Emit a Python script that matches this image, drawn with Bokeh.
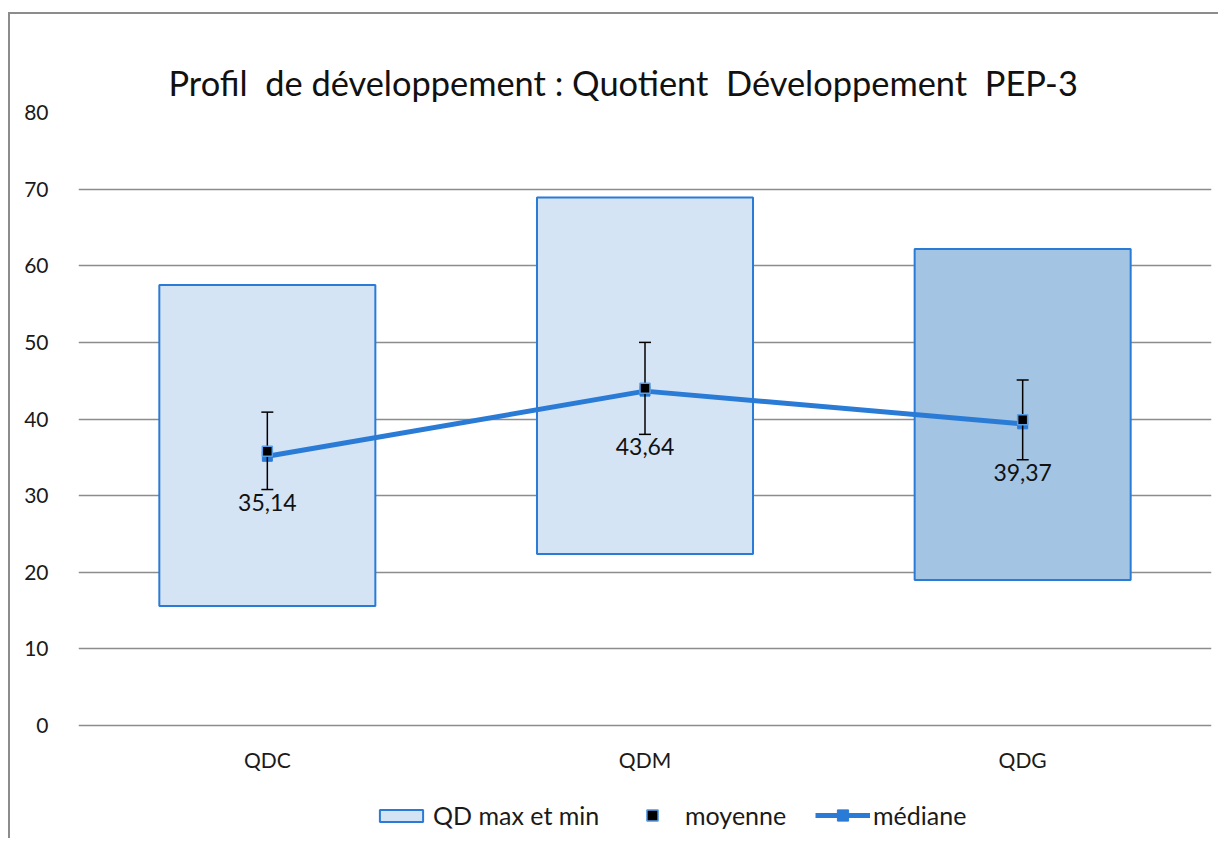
from bokeh.plotting import figure
from bokeh.models import (FactorRange, ColumnDataSource, Legend, LegendItem, FixedTicker, Range1d,
                          CategoricalAxis)
from bokeh.core.properties import value
from bokeh.embed import file_html
from bokeh.resources import INLINE

# ---- data ----
categories = ["QDC", "QDM", "QDG"]
qd_min = [15.6, 22.4, 19.0]
qd_max = [57.5, 68.9, 62.2]
moyenne = [35.8, 44.0, 39.9]
mediane = [35.14, 43.64, 39.37]
err_upper = [40.9, 50.0, 45.1]
err_lower = [30.8, 38.0, 34.7]
bar_colors = ["#d5e4f5", "#d5e4f5", "#a3c4e2"]
yticks = [0, 10, 20, 30, 40, 50, 60, 70, 80]
labels = [f"{v:.2f}".replace(".", ",") for v in mediane]
title_text = "Profil\u00a0 de développement : Quotient\u00a0 Développement\u00a0 PEP-3"

FONT = "Lato"
BLUE = "#2a7bd6"

src = ColumnDataSource(dict(cat=categories, lo=qd_min, hi=qd_max, mean=moyenne, med=mediane,
                            up=err_upper, low=err_lower, col=bar_colors, lab=labels))

p = figure(x_range=FactorRange(*categories, range_padding=0), y_range=Range1d(-15, 80),
           width=1210, height=826, output_backend="svg", toolbar_location=None,
           min_border_left=68, min_border_right=9, min_border_top=98, min_border_bottom=0)
p.styles = {"margin-top": "12px", "margin-left": "8px",
            "border-left": "2px solid #8c8c8c", "border-top": "2px solid #8c8c8c"}

xaxis_main = p.below[0]
yaxis_main = p.left[0]

# empty spacer axis between the plot area and the title (no ticks, so nothing is drawn)
spacer = CategoricalAxis(ticker=FixedTicker(ticks=[]), axis_line_color=None,
                         major_tick_line_color="white", minor_tick_line_color=None,
                         major_tick_out=25, major_tick_in=0, minor_tick_out=0, minor_tick_in=0,
                         major_label_standoff=0)
p.add_layout(spacer, "above")

p.title.text = title_text
p.title.text_font = FONT
p.title.text_font_size = "34.4px"
p.title.text_font_style = "normal"
p.title.text_color = "#111111"
p.title.align = "left"
p.title.offset = 90
p.title.standoff = 20

p.outline_line_color = None
p.background_fill_color = "white"
p.border_fill_color = "white"

# axes
yaxis_main.ticker = FixedTicker(ticks=yticks)
xaxis_main.fixed_location = 0
for ax in (xaxis_main, yaxis_main):
    ax.axis_line_color = None
    ax.major_tick_line_color = None
    ax.minor_tick_line_color = None
    ax.major_label_text_font = FONT
    ax.major_label_text_font_size = "21px"
    ax.major_label_text_color = "#1a1a1a"
yaxis_main.major_label_standoff = 24
xaxis_main.major_label_standoff = 15
p.xgrid.grid_line_color = None
p.ygrid.grid_line_color = "#8c8c8c"
p.ygrid.grid_line_width = 1.5

# bars (max/min)
bars = p.vbar(x="cat", top="hi", bottom="lo", width=0.572, source=src,
              fill_color="col", line_color=BLUE, line_width=2)

# median line
med_line = p.line(x="cat", y="med", source=src, line_color=BLUE, line_width=5)
med_pts = p.scatter(x="cat", y="med", source=src, marker="square", size=10,
                    fill_color=BLUE, line_color=BLUE)

# error bars
p.segment(x0="cat", y0="low", x1="cat", y1="up", source=src, line_color="black", line_width=1.5)
p.scatter(x="cat", y="up", source=src, marker="dash", size=12, line_color="black", line_width=1.5)
p.scatter(x="cat", y="low", source=src, marker="dash", size=12, line_color="black", line_width=1.5)

# mean markers
mean_pts = p.scatter(x="cat", y="mean", source=src, marker="square", size=10,
                     fill_color="black", line_color="#5b9ee8", line_width=1.5)

# data labels
p.text(x="cat", y="low", text="lab", source=src, text_font=value(FONT), text_font_size="23px",
       text_align="center", text_baseline="top", y_offset=4, text_color="#111111")

# legends (three separate boxes)
def mk_legend(items, x, y, gw, gh, standoff):
    lg = Legend(items=items, location=(x, y), orientation="horizontal",
                glyph_width=gw, glyph_height=gh, label_height=28, label_standoff=standoff,
                label_text_font=FONT, label_text_font_size="25px", label_text_color="#1a1a1a",
                padding=0, margin=0, spacing=0, border_line_color=None, background_fill_alpha=0)
    p.add_layout(lg, "center")

mk_legend([LegendItem(label="QD max et min", renderers=[bars], index=0)], 296, 10, 54, 15, 5)
mk_legend([LegendItem(label="moyenne", renderers=[mean_pts])], 560, 10, 28, 28, 19)
mk_legend([LegendItem(label="médiane", renderers=[med_line, med_pts])], 737, 10, 55, 28, 3)

open("out.html", "w").write(file_html(p, INLINE))
